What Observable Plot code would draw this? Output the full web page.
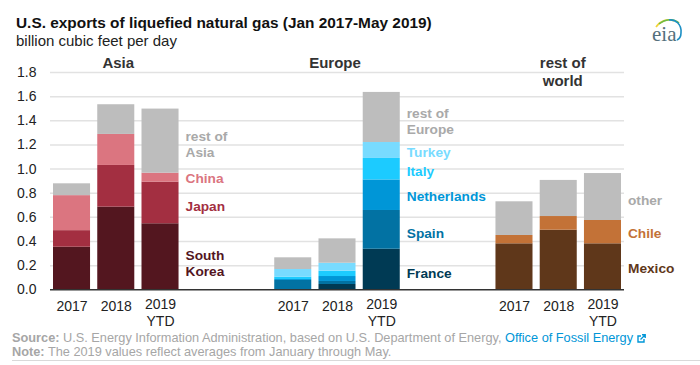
<!DOCTYPE html>
<html>
<head>
<meta charset="utf-8">
<script src="https://cdn.jsdelivr.net/npm/d3@7"></script>
<script src="https://cdn.jsdelivr.net/npm/@observablehq/plot@0.6"></script>
<style>
html,body{margin:0;padding:0;background:#fff;}
body{width:700px;height:365px;position:relative;overflow:hidden;font-family:"Liberation Sans",Arial,sans-serif;}
.abs{position:absolute;white-space:nowrap;}
#title{left:16px;top:14px;font-size:15.4px;font-weight:bold;color:#111;line-height:18px;}
#sub{left:16px;top:32px;font-size:15px;color:#222;line-height:18px;}
#chart{left:0;top:50px;}
.foot{left:12px;font-size:12.75px;line-height:14px;color:#a6a6a6;}
.foot b{color:#a6a6a6;}
.foot span{color:#0096d7;}
#rule{left:12px;top:360px;width:688px;height:1px;background:#d9d9d9;}
#logo{left:650px;top:16px;}
</style>
</head>
<body>
<div class="abs" id="title">U.S. exports of liquefied natural gas (Jan 2017-May 2019)</div>
<div class="abs" id="sub">billion cubic feet per day</div>
<div class="abs" id="chart"></div>
<div class="abs foot" style="top:331px"><b>Source:</b> U.S. Energy Information Administration, based on U.S. Department of Energy, <span>Office of Fossil Energy</span> <svg width="9" height="9" viewBox="0 0 9 9" style="vertical-align:-1px"><path d="M4 2H1v6h6V5" fill="none" stroke="#0096d7" stroke-width="1.4"/><path d="M3.5 5.5L8 1M5 .8h3.2V4" fill="none" stroke="#0096d7" stroke-width="1.4"/></svg></div>
<div class="abs foot" style="top:345px"><b>Note:</b> The 2019 values reflect averages from January through May.</div>
<div class="abs" id="rule"></div>
<svg class="abs" id="logo" width="36" height="34" viewBox="0 0 36 34">
  <path d="M6 11C10 5 18 2 24 5" fill="none" stroke="#f2d43a" stroke-width="1.6"/>
  <path d="M9 8C15 3 24 2 29 7" fill="none" stroke="#6dbb45" stroke-width="1.6"/>
  <path d="M19 4C25 3 32 8 31 17C31 20 29 23 27 24" fill="none" stroke="#1c8fc4" stroke-width="1.6"/>
  <text x="2" y="25" font-family="Liberation Serif,serif" font-size="21" fill="#54707c">eia</text>
</svg>
<script>
const slots = ["a2017","a2018","a2019","g1","g2","e2017","e2018","e2019","g3","g4","w2017","w2018","w2019"];
const asiaYears = ["a2017","a2018","a2019"];
const europeYears = ["e2017","e2018","e2019"];
const worldYears = ["w2017","w2018","w2019"];

const southKorea = [0.353,0.685,0.547];
const japan = [0.137,0.345,0.345];
const china = [0.290,0.257,0.074];
const restOfAsia = [0.098,0.246,0.531];
const france = [0,0.044,0.336];
const spain = [0.077,0.025,0.321];
const netherlands = [0.008,0.041,0.253];
const italy = [0.020,0.044,0.178];
const turkey = [0.063,0.066,0.132];
const restOfEurope = [0.097,0.202,0.415];
const mexico = [0.381,0.494,0.381];
const chile = [0.069,0.113,0.193];
const other = [0.279,0.299,0.389];

const series = [
  ["South Korea",asiaYears,southKorea,"#53161f"],
  ["Japan",asiaYears,japan,"#a32f41"],
  ["China",asiaYears,china,"#db7580"],
  ["rest of Asia",asiaYears,restOfAsia,"#bdbdbd"],
  ["France",europeYears,france,"#003a54"],
  ["Spain",europeYears,spain,"#0272a3"],
  ["Netherlands",europeYears,netherlands,"#0096d7"],
  ["Italy",europeYears,italy,"#1ccbff"],
  ["Turkey",europeYears,turkey,"#78dbff"],
  ["rest of Europe",europeYears,restOfEurope,"#bdbdbd"],
  ["Mexico",worldYears,mexico,"#5f371a"],
  ["Chile",worldYears,chile,"#c37237"],
  ["other",worldYears,other,"#bdbdbd"]
];
const rows = series.flatMap(([name,xs,vals]) => vals.map((v,i) => ({name,slot:xs[i],v})));

const segLabels = [
  {t:"South\nKorea",s:"a2019",y:0.218,c:"#53161f"},
  {t:"Japan",s:"a2019",y:0.69,c:"#a32f41"},
  {t:"China",s:"a2019",y:0.922,c:"#db7580"},
  {t:"rest of\nAsia",s:"a2019",y:1.204,c:"#a9a9a9"},
  {t:"France",s:"e2019",y:0.135,c:"#003a54"},
  {t:"Spain",s:"e2019",y:0.466,c:"#0272a3"},
  {t:"Netherlands",s:"e2019",y:0.773,c:"#0096d7"},
  {t:"Italy",s:"e2019",y:0.98,c:"#1ccbff"},
  {t:"Turkey",s:"e2019",y:1.138,c:"#78dbff"},
  {t:"rest of\nEurope",s:"e2019",y:1.394,c:"#a9a9a9"},
  {t:"Mexico",s:"w2019",y:0.176,c:"#5f371a"},
  {t:"Chile",s:"w2019",y:0.466,c:"#c37237"},
  {t:"other",s:"w2019",y:0.74,c:"#a9a9a9"}
];
const singleYear = [["a2017","2017"],["a2018","2018"],["e2017","2017"],["e2018","2018"],["w2017","2017"],["w2018","2018"]].map(([s,t])=>({s,t}));
const ytdYear = ["a2019","e2019","w2019"].map(s=>({s,t:"2019\nYTD"}));
const yTicks = [0,0.2,0.4,0.6,0.8,1.0,1.2,1.4,1.6,1.8];
const head = (s,t,dx) => Plot.text([{s,t}],{x:"s",y:()=>1.8,text:"t",dx,dy:-17,textAnchor:"middle",lineAnchor:"top",fontSize:15,fontWeight:"bold",fill:"#333",lineHeight:1.2});

const chart = Plot.plot({
  width:700,height:285,marginTop:22,marginBottom:45.7,marginLeft:50,marginRight:76,
  style:{fontFamily:'"Liberation Sans",Arial,sans-serif',background:"transparent",overflow:"visible"},
  x:{domain:slots,type:"band",paddingInner:0.163,paddingOuter:0.068,round:false,axis:null},
  y:{domain:[0,1.8],axis:null},
  color:{type:"ordinal",domain:series.map(d=>d[0]),range:series.map(d=>d[3])},
  marks:[
    Plot.ruleY(yTicks.slice(1),{stroke:"#e2e2e2",strokeWidth:1.5}),
    Plot.barY(rows,{x:"slot",y:"v",fill:"name",order:null}),
    Plot.ruleY([0],{stroke:"#333",strokeWidth:1.5}),
    Plot.axisY({ticks:yTicks,tickSize:0,tickPadding:14,tickFormat:d3.format(".1f"),fontSize:14,fill:"#222",label:null}),
    Plot.text(singleYear,{x:"s",y:()=>0,text:"t",dy:17,fontSize:14,fill:"#222"}),
    Plot.text(ytdYear,{x:"s",y:()=>0,text:"t",dy:22,fontSize:14,fill:"#222",lineHeight:1.2}),
    Plot.text(segLabels,{x:"s",y:"y",text:"t",fill:"c",textAnchor:"start",dx:25,dy:-0.6,fontSize:13.7,fontWeight:"bold",lineHeight:1.17}),
    head("a2018","Asia",2),
    head("e2018","Europe",-2.5),
    head("w2018","rest of\nworld",4)
  ]
});
document.getElementById("chart").appendChild(chart);
</script>
</body>
</html>
